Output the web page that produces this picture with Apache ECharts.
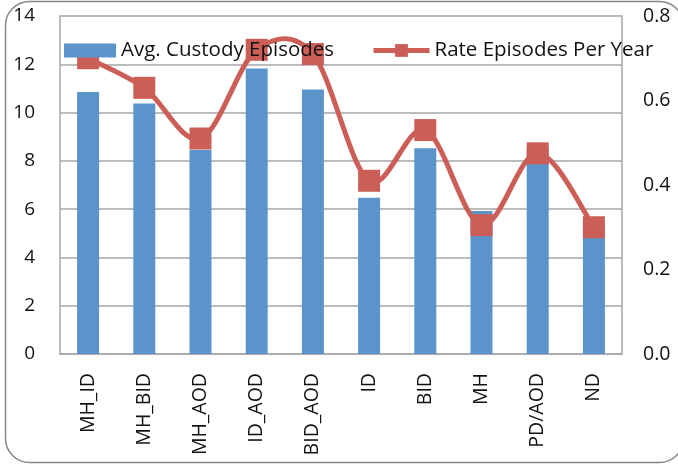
<!DOCTYPE html>
<html>
<head>
<meta charset="utf-8">
<script src="https://cdn.jsdelivr.net/npm/echarts@6/dist/echarts.min.js"></script>
<style>
  html, body { margin: 0; padding: 0; background: #fff; }
  #chart { width: 678px; height: 465px; }
</style>
</head>
<body>
<div id="chart"></div>
<script>
var categories = ['MH_ID', 'MH_BID', 'MH_AOD', 'ID_AOD', 'BID_AOD', 'ID', 'BID', 'MH', 'PD/AOD', 'ND'];
var avgCustody = [10.85, 10.38, 8.45, 11.83, 10.96, 6.47, 8.52, 5.92, 8.55, 5.41];
var ratePerYear = [0.70, 0.63, 0.51, 0.72, 0.71, 0.41, 0.53, 0.305, 0.475, 0.30];
var leftTicks = [0, 14, 2];
var rightTicks = [0, 0.8, 0.2];

var chart = echarts.init(document.getElementById('chart'));
var font = '"Open Sans", sans-serif';
var blue = '#5B94CB';
var red = '#CC5E58';
var gridGray = '#A6A6A6';

// Excel style smoothed line (catmull-rom), ECharts' own smoothing clamps the overshoot
function renderCurve(params, api) {
  if (params.dataIndex !== 0) return null;
  var pts = ratePerYear.map(function (v, i) { return api.coord([i, v]); });
  var n = pts.length;
  var children = [];
  for (var i = 0; i < n - 1; i++) {
    var p0 = pts[Math.max(i - 1, 0)];
    var p1 = pts[i];
    var p2 = pts[i + 1];
    var p3 = pts[Math.min(i + 2, n - 1)];
    children.push({
      type: 'bezierCurve',
      shape: {
        x1: p1[0], y1: p1[1],
        cpx1: p1[0] + (p2[0] - p0[0]) / 6, cpy1: p1[1] + (p2[1] - p0[1]) / 6,
        cpx2: p2[0] - (p3[0] - p1[0]) / 6, cpy2: p2[1] - (p3[1] - p1[1]) / 6,
        x2: p2[0], y2: p2[1]
      },
      style: { stroke: red, lineWidth: 5, fill: null, lineCap: 'round' }
    });
  }
  return { type: 'group', children: children };
}

var option = {
  animation: false,
  backgroundColor: '#fff',
  graphic: [{
    type: 'rect',
    shape: { x: 5.5, y: 1.5, width: 678, height: 461, r: 24 },
    style: { fill: 'none', stroke: '#888', lineWidth: 1.5 },
    z: 100
  }],
  grid: { left: 60, right: 56, top: 16, bottom: 111 },
  legend: [{
    data: [{ name: 'Avg. Custody Episodes', icon: 'rect' }],
    left: 64, top: 40, padding: 0, z: 20,
    itemWidth: 52, itemHeight: 14,
    textStyle: { fontFamily: font, fontSize: 20.5, color: '#111' }
  }, {
    data: ['Rate Episodes Per Year'],
    left: 371, top: 40, padding: 0, z: 20,
    itemWidth: 56, itemHeight: 16,
    lineStyle: { width: 5, opacity: 1, color: red },
    textStyle: { fontFamily: font, fontSize: 20.5, color: '#111' }
  }],
  xAxis: {
    type: 'category',
    data: categories,
    axisLine: { lineStyle: { color: gridGray, width: 1.5 } },
    axisTick: { show: false },
    axisLabel: { rotate: 90, margin: 19, fontFamily: font, fontSize: 19.5, color: '#111', interval: 0 }
  },
  yAxis: [{
    type: 'value',
    min: leftTicks[0], max: leftTicks[1], interval: leftTicks[2],
    axisLine: { show: true, lineStyle: { color: gridGray, width: 1.5 } },
    axisTick: { show: false },
    splitLine: { lineStyle: { color: gridGray, width: 1.5 } },
    axisLabel: { margin: 25, fontFamily: font, fontSize: 19, color: '#111' }
  }, {
    type: 'value',
    min: rightTicks[0], max: rightTicks[1], interval: rightTicks[2],
    axisLine: { show: true, lineStyle: { color: gridGray, width: 1.5 } },
    axisTick: { show: false },
    splitLine: { show: false },
    axisLabel: {
      margin: 21, fontFamily: font, fontSize: 19.5, color: '#111',
      formatter: function (v) { return v.toFixed(1); }
    }
  }],
  series: [{
    name: 'Avg. Custody Episodes',
    type: 'bar',
    data: avgCustody,
    barWidth: 22,
    itemStyle: { color: blue },
    z: 2
  }, {
    name: 'rateCurve',
    type: 'custom',
    yAxisIndex: 1,
    data: ratePerYear.map(function (v, i) { return [i, v]; }),
    renderItem: renderCurve,
    silent: true,
    z: 3
  }, {
    name: 'Rate Episodes Per Year',
    type: 'line',
    yAxisIndex: 1,
    data: ratePerYear,
    symbol: 'rect',
    symbolSize: 22,
    lineStyle: { color: red, width: 5, opacity: 0 },
    itemStyle: { color: red },
    z: 4
  }]
};

chart.setOption(option);
</script>
</body>
</html>
